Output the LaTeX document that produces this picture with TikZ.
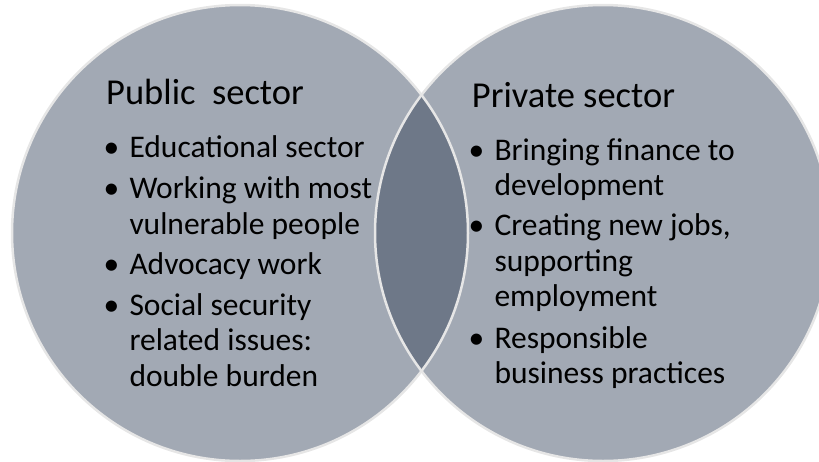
\documentclass[tikz,border=0pt]{standalone}
\usepackage{fontspec}
\setmainfont{Carlito}
\usetikzlibrary{positioning}
\definecolor{sectorfill}{HTML}{A2A9B4}
\definecolor{overlapfill}{HTML}{6E7888}
\definecolor{sectorrim}{HTML}{E6E6E6}
\tikzset{
    sector/.style={circle, fill=sectorfill, inner sep=0pt, minimum size=456pt},
    rim/.style={draw=sectorrim, line width=2.5pt},
    heading/.style={anchor=base west, inner sep=0pt, font=\fontsize{36.5}{42}\selectfont},
    % multi-line points are placed by the baseline of their last line
    point/.style={anchor=base west, inner sep=0pt, align=left, font=\fontsize{31.5}{35.5}\selectfont},
    dot/.style={anchor=base, inner sep=0pt, font=\fontsize{31.5}{35.5}\selectfont}
}

\begin{document}
\begin{tikzpicture}[x=1pt, y=-1pt]
    \useasboundingbox (0,0) rectangle (819,461);
    % the two sectors and their common part
    \node[sector] at (240,233) (public) {};
    \node[sector] at (603,233) (private) {};
    \begin{scope}
        \clip (public.center) circle (228pt);
        \fill[overlapfill] (private.center) circle (228pt);
    \end{scope}
    \draw[rim] (public.center) circle (228pt);
    \draw[rim] (private.center) circle (228pt);

    % public sector
    \node[heading] at (106,104.3) (pubhead) {Public\ \ sector};
    \node[point] at (129.3,157.7) (pubedu) {Educational sector};
    \node[point] at (129.3,234.2) (pubwork) {Working with most\\vulnerable people};
    \node[point] at (129.3,274.3) (pubadv) {Advocacy work};
    \node[point] at (129.3,386.3) (pubsocial) {Social security\\related issues:\\double burden};
    \foreach \y [count=\i] in {157.7,198.7,274.3,315}
        \node[dot] at (111.5,\y) (pubdot\i) {\textbullet};

    % private sector
    \node[heading] at (471.7,107.7) (privhead) {Private sector};
    \node[point] at (494.3,195.8) (privfin) {Bringing finance to\\development};
    \node[point] at (494.3,306.6) (privjobs) {Creating new jobs,\\supporting\\employment};
    \node[point] at (494.3,383.5) (privresp) {Responsible\\business practices};
    \foreach \y [count=\i] in {160.3,235.6,348}
        \node[dot] at (476.5,\y) (privdot\i) {\textbullet};
\end{tikzpicture}
\end{document}
